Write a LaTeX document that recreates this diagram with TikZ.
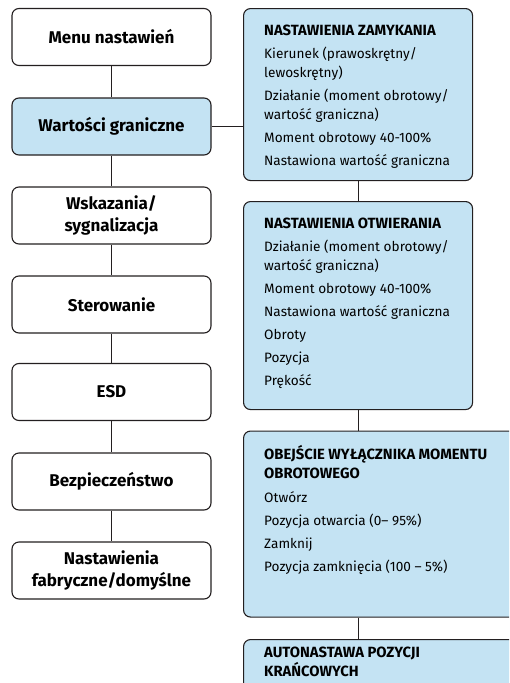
\documentclass[tikz,border=0pt]{standalone}
\usepackage{fontspec}
\setmainfont{Fira Sans}
\definecolor{boxblue}{HTML}{C4E3F3}
\definecolor{linegray}{HTML}{231F20}
\tikzset{
  menubox/.style={draw=linegray, line width=1.1pt, rounded corners=7pt, fill=white,
    minimum width=199pt, minimum height=57pt, align=center, inner sep=0pt,
    font=\bfseries\fontsize{17}{22}\selectfont},
  menusel/.style={menubox, fill=boxblue},
  infobox/.style={draw=linegray, line width=1.1pt, rounded corners=7pt, fill=boxblue,
    anchor=north west, inner sep=0pt},
  infotext/.style={anchor=north west, align=left, inner sep=0pt,
    font=\fontsize{13.6}{19}\selectfont},
  link/.style={draw=linegray, line width=1.1pt}
}
\newcommand{\firstline}{\rule{0pt}{15pt}}
\newcommand{\boxtitle}[1]{{\bfseries\fontsize{14.8}{19}\selectfont #1}}
\begin{document}
\begin{tikzpicture}[x=1pt,y=-1pt]
    \useasboundingbox (0,0) rectangle (509,683);
    \clip (0,0) rectangle (509,683);
    %% menu column
    \node[menubox] (menu) at (111.5,37) {Menu nastawień};
    \node[menusel] (limits) at (111.5,126.5) {Wartości graniczne};
    \node[menubox] (display) at (111.5,215.5) {Wskazania/\\sygnalizacja};
    \node[menubox] (control) at (111.5,304.5) {Sterowanie};
    \node[menubox] (esd) at (111.5,392) {ESD};
    \node[menubox] (safety) at (111.5,481.5) {Bezpieczeństwo};
    \node[menubox] (factory) at (111.5,570.5) {Nastawienia\\fabryczne/domyślne};
    %% detail boxes
    \node[infobox,minimum width=229pt,minimum height=172pt] (closing) at (243,8) {};
    \node[infobox,minimum width=229pt,minimum height=208pt] (opening) at (243,201) {};
    \node[infobox,minimum width=290pt,minimum height=186pt] (bypass) at (243,430.5) {};
    \node[infobox,minimum width=290pt,minimum height=90pt] (autoset) at (243,639) {};
    %% texts
    \node[infotext] (closingtxt) at (264,20) {\firstline\boxtitle{NASTAWIENIA ZAMYKANIA}\\[4pt]
        Kierunek (prawoskrętny/\\lewoskrętny)\\[4pt]
        Działanie (moment obrotowy/\\wartość graniczna)\\[4pt]
        Moment obrotowy 40-100\%\\[4pt]
        Nastawiona wartość graniczna};
    \node[infotext] (openingtxt) at (264,213) {\firstline\boxtitle{NASTAWIENIA OTWIERANIA}\\[4pt]
        Działanie (moment obrotowy/\\wartość graniczna)\\[4pt]
        Moment obrotowy 40-100\%\\[4pt]
        Nastawiona wartość graniczna\\[4pt]
        Obroty\\[4pt]
        Pozycja\\[4pt]
        Prękość};
    \node[infotext] (bypasstxt) at (264,444) {\firstline\boxtitle{OBEJŚCIE WYŁĄCZNIKA MOMENTU}\\
        \boxtitle{OBROTOWEGO}\\[5pt]
        Otwórz\\[4pt]
        Pozycja otwarcia (0– 95\%)\\[4pt]
        Zamknij\\[4pt]
        Pozycja zamknięcia (100 – 5\%)};
    \node[infotext] (autosettxt) at (264,642) {\firstline\boxtitle{AUTONASTAWA POZYCJI}\\
        \boxtitle{KRAŃCOWYCH}};
    %% connectors
    \foreach \a/\b in {menu/limits,limits/display,display/control,control/esd,esd/safety,safety/factory}
        \draw[link] (\a) -- (\b);
    \draw[link] (limits.east) -- (closing.west |- limits.east);
    \draw[link] (closing.south) -- (opening.north);
    \draw[link] (opening.south) -- (opening.south |- bypass.north);
    \draw[link] (bypass.south -| opening.south) -- (autoset.north -| opening.south);
\end{tikzpicture}
\end{document}
